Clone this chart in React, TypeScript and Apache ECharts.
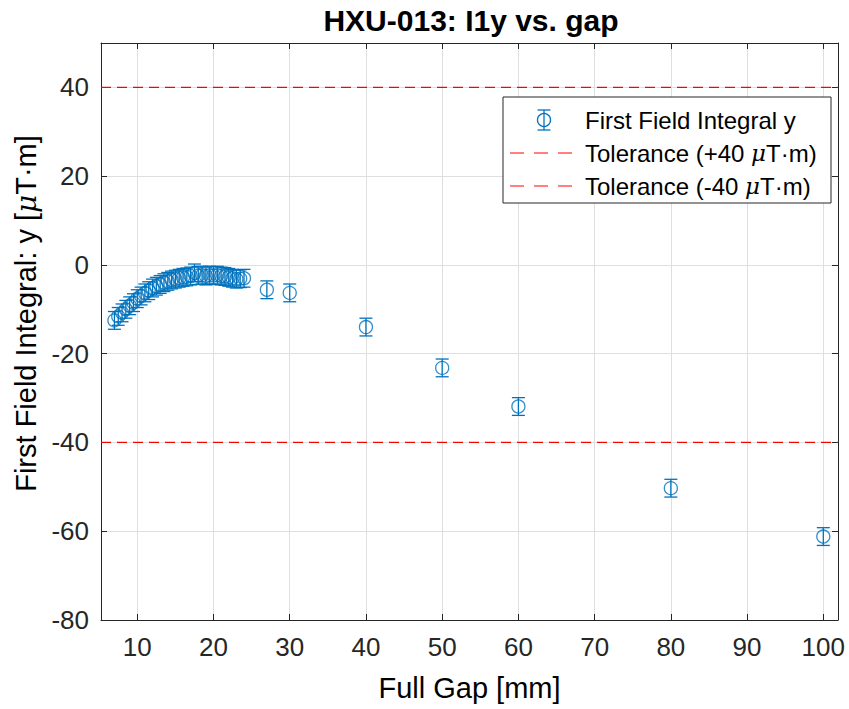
import React, { useEffect, useRef } from "react";
import * as echarts from "echarts";

const gapMM = [
  7, 7.5, 8, 8.5, 9, 9.5, 10, 10.5, 11, 11.5, 12, 12.5, 13, 13.5, 14, 14.5, 15, 15.5, 16, 16.5,
  17, 17.5, 18, 18.5, 19, 19.5, 20, 20.5, 21, 21.5, 22, 22.5, 23, 23.5, 24, 27, 30, 40, 50, 60, 80, 100,
];
const i1y = [
  -12.5, -11.6, -10.8, -10.0, -9.2, -8.5, -7.6, -7.0, -6.3, -5.8, -5.2, -4.8, -4.4, -4.0, -3.7, -3.4,
  -3.2, -3.0, -2.8, -2.7, -2.5, -1.8, -2.4, -2.3, -2.5, -2.3, -2.4, -2.3, -2.5, -2.6, -2.8, -3.0, -3.2,
  -3.1, -3.0, -5.6, -6.3, -14.0, -23.2, -31.9, -50.3, -61.2,
];
const i1yErr = [
  2, 2, 2, 2, 2, 2, 2, 2, 2, 2, 2, 2, 2, 2, 2, 2, 2, 2, 2, 2, 2, 2, 2, 2, 2, 2, 2, 2, 2, 2, 2, 2, 2, 2, 2,
  2, 2, 2, 2, 2, 2, 2,
];
const tolerances = [40, -40];
const legendLabels = ["First Field Integral y", "Tolerance (+40 {mu|μ}T·m)", "Tolerance (-40 {mu|μ}T·m)"];
const xLimits = [5.24, 101.93];
const yLimits = [-80, 50];
const yTickStep = 20;

const BLUE = "#0072BD";
const RED = "#FF0000";
const AXIS = "#262626";
const GRID = "#DFDFDF";
const FONT = "Liberation Sans, Arial, Helvetica, sans-serif";

export default function App() {
  const ref = useRef<HTMLDivElement>(null);
  useEffect(() => {
    if (!ref.current) return;
    const chart = echarts.init(ref.current, null, { renderer: "svg" });
    const pts = gapMM.map((g, i) => [g, i1y[i]]);
    const errs = gapMM.map((g, i) => [g, i1y[i], i1yErr[i]]);
    const half = 6.5;
    const lgX = 503, lgY = 97, lgW = 328, lgH = 106;
    const rows = [120, 153, 186];
    const muStyle = { fontStyle: "italic", fontSize: 23, fontFamily: "DejaVu Serif, serif", fill: "#000" };
    const axisCommon = {
      axisLine: { show: true, onZero: false, lineStyle: { color: AXIS, width: 1 } },
      axisTick: { show: true, inside: true, length: 6, lineStyle: { color: AXIS, width: 1 } },
    };
    const lgStroke = { stroke: BLUE, lineWidth: 1.3, fill: "none" };
    const ix = 544;
    chart.setOption({
      animation: false,
      backgroundColor: "#fff",
      title: {
        text: "HXU-013: I1y vs. gap",
        left: 466,
        textAlign: "center",
        top: 0,
        textStyle: { fontFamily: FONT, fontWeight: "bold", fontSize: 30, color: "#000" },
      },
      grid: { left: 101, right: 11, top: 43, bottom: 89 },
      xAxis: [
        {
          type: "value",
          min: xLimits[0],
          max: xLimits[1],
          splitNumber: 10,
          ...axisCommon,
          axisLabel: {
            showMinLabel: false,
            showMaxLabel: false,
            color: AXIS,
            fontFamily: FONT,
            fontSize: 26,
            margin: 14,
            formatter: (v: number) => (Math.abs(v % 10) < 1e-6 ? String(v) : ""),
          },
          splitLine: { show: true, lineStyle: { color: GRID, width: 1 } },
          name: "Full Gap [mm]",
          nameLocation: "middle",
          nameGap: 53,
          nameTextStyle: { fontFamily: FONT, fontSize: 29, color: "#000" },
        },
        {
          type: "value",
          position: "top",
          min: xLimits[0],
          max: xLimits[1],
          splitNumber: 10,
          ...axisCommon,
          axisLabel: { show: false },
          splitLine: { show: false },
        },
      ],
      yAxis: [
        {
          type: "value",
          min: yLimits[0],
          max: yLimits[1],
          interval: yTickStep,
          ...axisCommon,
          axisLabel: {
            showMaxLabel: false,
            color: AXIS,
            fontFamily: FONT,
            fontSize: 26,
            margin: 12,
            formatter: (v: number) => (v % 20 === 0 ? String(v) : ""),
          },
          splitLine: { show: true, lineStyle: { color: GRID, width: 1 } },
          name: "First Field Integral: y [{mu|μ}T·m]",
          nameLocation: "middle",
          nameGap: 60,
          nameTextStyle: {
            fontFamily: FONT,
            fontSize: 29,
            color: "#000",
            padding: [0, 0, 0, 36],
            rich: { mu: { ...muStyle, fontSize: 28 } },
          },
        },
        {
          type: "value",
          position: "right",
          min: yLimits[0],
          max: yLimits[1],
          interval: yTickStep,
          ...axisCommon,
          axisLabel: { show: false },
          splitLine: { show: false },
        },
      ],
      series: [
        {
          type: "custom",
          name: "errorbars",
          xAxisIndex: 0,
          yAxisIndex: 0,
          data: errs,
          encode: { x: 0, y: 1 },
          z: 3,
          renderItem: (params: any, api: any) => {
            const x = api.value(0);
            const y = api.value(1);
            const e = api.value(2);
            const t = api.coord([x, y + e]);
            const b = api.coord([x, y - e]);
            const style = { stroke: BLUE, lineWidth: 1.3, fill: "none" };
            return {
              type: "group",
              children: [
                { type: "line", shape: { x1: t[0], y1: t[1], x2: b[0], y2: b[1] }, style },
                { type: "line", shape: { x1: t[0] - half, y1: t[1], x2: t[0] + half, y2: t[1] }, style },
                { type: "line", shape: { x1: b[0] - half, y1: b[1], x2: b[0] + half, y2: b[1] }, style },
              ],
            };
          },
        },
        {
          type: "scatter",
          name: "First Field Integral y",
          data: pts,
          symbol: "circle",
          symbolSize: 13,
          z: 4,
          itemStyle: { color: "rgba(0,0,0,0)", borderColor: BLUE, borderWidth: 1.3 },
        },
        ...tolerances.map((t) => ({
          type: "line",
          name: `Tolerance (${t > 0 ? "+" : ""}${t} μT·m)`,
          data: [
            [xLimits[0], t],
            [xLimits[1], t],
          ],
          symbol: "none",
          z: 10,
          color: RED,
          emphasis: { disabled: true },
          itemStyle: { color: RED },
          lineStyle: { color: RED, width: 1.2, type: [10, 6] },
        })),
      ],
      graphic: [
        {
          type: "rect",
          shape: { x: lgX, y: lgY, width: lgW, height: lgH },
          style: { fill: "#fff", stroke: AXIS, lineWidth: 1 },
          z: 100,
        },
        { type: "line", z: 101, shape: { x1: ix, y1: rows[0] - 10, x2: ix, y2: rows[0] + 10 }, style: lgStroke },
        { type: "line", z: 101, shape: { x1: ix - half, y1: rows[0] - 10, x2: ix + half, y2: rows[0] - 10 }, style: lgStroke },
        { type: "line", z: 101, shape: { x1: ix - half, y1: rows[0] + 10, x2: ix + half, y2: rows[0] + 10 }, style: lgStroke },
        { type: "circle", z: 101, shape: { cx: ix, cy: rows[0], r: 6.5 }, style: lgStroke },
        { type: "line", z: 101, shape: { x1: 510, y1: rows[1], x2: 578, y2: rows[1] }, style: { stroke: RED, lineWidth: 1, lineDash: [14, 10] } },
        { type: "line", z: 101, shape: { x1: 510, y1: rows[2], x2: 578, y2: rows[2] }, style: { stroke: RED, lineWidth: 1, lineDash: [14, 10] } },
        ...legendLabels.map((s, i) => ({
          type: "text",
          z: 102,
          x: 585,
          y: rows[i],
          style: {
            text: s,
            font: `24px ${FONT}`,
            fill: "#000",
            verticalAlign: "middle",
            rich: { mu: { ...muStyle } },
          },
        })),
      ],
    });
    return () => chart.dispose();
  }, []);
  return <div ref={ref} style={{ position: "fixed", left: 0, top: 0, width: 849, height: 709 }} />;
}
